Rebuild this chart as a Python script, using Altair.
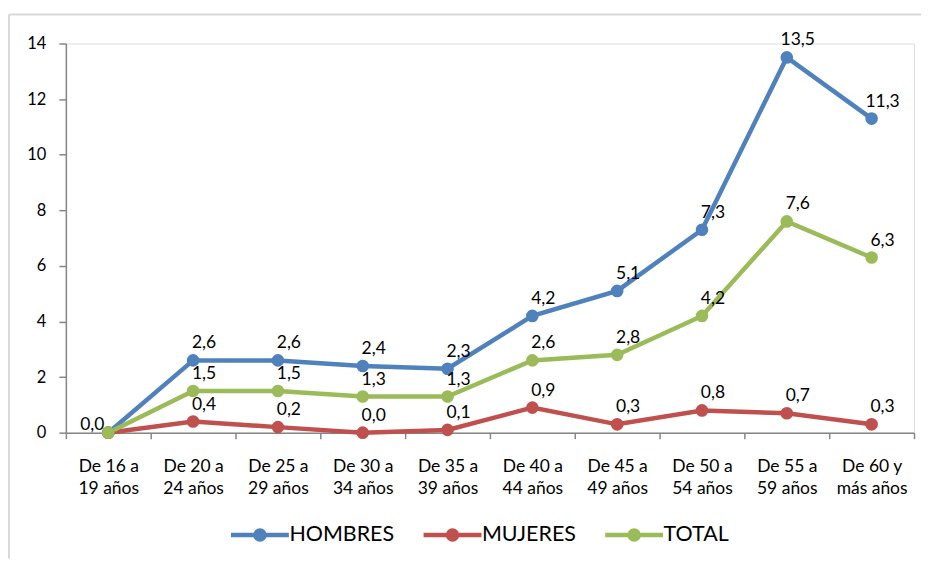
import altair as alt
import pandas as pd

categories = ["De 16 a|19 años", "De 20 a|24 años", "De 25 a|29 años", "De 30 a|34 años",
              "De 35 a|39 años", "De 40 a|44 años", "De 45 a|49 años", "De 50 a|54 años",
              "De 55 a|59 años", "De 60 y|más años"]
hombres = [0.0, 2.6, 2.6, 2.4, 2.3, 4.2, 5.1, 7.3, 13.5, 11.3]
mujeres = [0.0, 0.4, 0.2, 0.0, 0.1, 0.9, 0.3, 0.8, 0.7, 0.3]
total = [0.0, 1.5, 1.5, 1.3, 1.3, 2.6, 2.8, 4.2, 7.6, 6.3]
series_names = ["HOMBRES", "MUJERES", "TOTAL"]
series_colors = ["#4F81BD", "#C0504D", "#9BBB59"]

rows = []
for name, vals in zip(series_names, [hombres, mujeres, total]):
    for i, (c, v) in enumerate(zip(categories, vals)):
        rows.append({"cat": c, "serie": name, "valor": v, "idx": i})
df = pd.DataFrame(rows)

FONT = "Lato"
W, H = 850, 390
AXIS_GRAY = "#868686"

x_enc = alt.X("cat:N", sort=categories, title=None,
              scale=alt.Scale(paddingInner=0, paddingOuter=0),
              axis=alt.Axis(labelAngle=0, tickBand="extent", labelExpr="split(datum.label, '|')",
                            labelFontSize=17.5, labelFont=FONT, labelColor="#000000",
                            labelLineHeight=22, labelPadding=19, tickSize=6,
                            domainColor=AXIS_GRAY, tickColor=AXIS_GRAY, domainWidth=1.5,
                            tickWidth=1.5, grid=False))
y_enc = alt.Y("valor:Q", title=None,
              scale=alt.Scale(domain=[0, 14], nice=False),
              axis=alt.Axis(values=list(range(0, 15, 2)), grid=False, tickSize=7,
                            labelPadding=13, labelFontSize=16.5, labelFont=FONT,
                            labelColor="#000000", domainColor=AXIS_GRAY, tickColor=AXIS_GRAY,
                            domainWidth=1.5, tickWidth=1.5))

legend_path = "M-2.9,0L2.9,0M-0.45,0A0.45,0.45,0,1,1,0.45,0A0.45,0.45,0,1,1,-0.45,0Z"
leg = alt.Legend(title=None, orient="none", legendX=182, legendY=480, direction="horizontal",
                 columns=3, symbolType=legend_path, symbolSize=400, symbolStrokeWidth=4.5,
                 labelFontSize=21.5, labelFont=FONT, labelColor="#000000", labelOffset=17,
                 columnPadding=19, symbolOpacity=1)
sc = alt.Scale(domain=series_names, range=series_colors)

base = alt.Chart(df)

lines = base.mark_line(strokeWidth=4.5).encode(
    x=x_enc, y=y_enc,
    stroke=alt.Stroke("serie:N", scale=sc, sort=series_names, legend=leg),
    detail="serie:N",
)
points = base.mark_point(filled=True, size=160, opacity=1, strokeWidth=0).encode(
    x=x_enc, y=y_enc,
    fill=alt.Fill("serie:N", scale=sc, sort=series_names, legend=leg),
    stroke=alt.Stroke("serie:N", scale=sc, sort=series_names, legend=leg),
)

base_lab = base.transform_calculate(
    lab="replace(format(datum.valor, '.1f'), '.', ',')"
)
labels = base_lab.transform_filter("datum.idx > 0").mark_text(
    dx=11, dy=-17, fontSize=17.5, font=FONT, color="#000000"
).encode(x=x_enc, y=y_enc, text="lab:N")
label0 = base_lab.transform_filter("datum.idx == 0 && datum.serie == 'HOMBRES'").mark_text(
    dx=-16, dy=-8, fontSize=17.5, font=FONT, color="#000000"
).encode(x=x_enc, y=y_enc, text="lab:N")

frame_data = alt.Data(values=[{"k": 1}])
frame_top = alt.Chart(frame_data).mark_rule(color="#D9D9D9", strokeWidth=2).encode(
    x=alt.value(-57), x2=alt.value(W + 7), y=alt.value(-29))
frame_left = alt.Chart(frame_data).mark_rule(color="#D9D9D9", strokeWidth=2).encode(
    x=alt.value(-57), y=alt.value(-29), y2=alt.value(H + 126))

chart = alt.layer(frame_top, frame_left, lines, points, labels, label0).properties(
    width=W, height=H, padding={"top": 5, "left": 0, "right": 0, "bottom": 0}
).configure_view(stroke=None).configure(font=FONT)

chart.save("out.html", embed_options={"renderer": "svg", "actions": False})
